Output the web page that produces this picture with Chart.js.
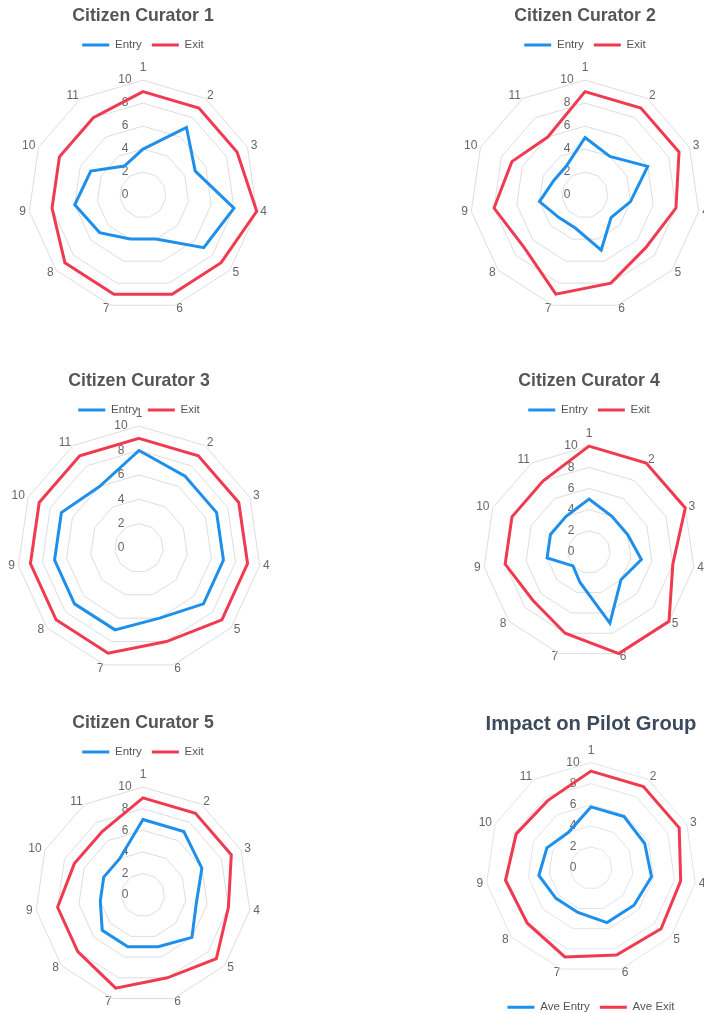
<!DOCTYPE html>
<html><head><meta charset="utf-8">
<script src="https://cdn.jsdelivr.net/npm/chart.js@4.4.0/dist/chart.umd.min.js"></script>
<style>
html,body{margin:0;padding:0;background:#fff;overflow:hidden;width:704px;height:1013px;position:relative;}
.box{position:absolute;}
</style></head><body>
<div class="box" id="b1"><canvas id="c1"></canvas></div>
<div class="box" id="b2"><canvas id="c2"></canvas></div>
<div class="box" id="b3"><canvas id="c3"></canvas></div>
<div class="box" id="b4"><canvas id="c4"></canvas></div>
<div class="box" id="b5"><canvas id="c5"></canvas></div>
<div class="box" id="b6"><canvas id="c6"></canvas></div>
<script>
// ---- data ----
const axisLabels = ['1','2','3','4','5','6','7','8','9','10','11'];
const tickValues = [0,2,4,6,8,10];

const titles = ['Citizen Curator 1','Citizen Curator 2','Citizen Curator 3','Citizen Curator 4','Citizen Curator 5','Impact on Pilot Group'];
const seriesNames = ['Entry','Exit'];
const avgSeriesNames = ['Ave Entry','Ave Exit'];

const entry1 = [4,7,5,8,7,4,4,5,6,5,3];
const exit1  = [9,9,9,10,9,9,9,9,8,8,8];
const entry2 = [5,4,6,4,3,5,3,3,4,3,3];
const exit2  = [9,9,9,8,7,8,9,7,8,7,6];
const entry3 = [8,7,7,7,7,6,7,7,7,7,6];
const exit3  = [9,9,9,9,9,8,9,9,9,9,9];
const entry4 = [5,4,4,5,4,7,3,2,4,4,4];
const exit4  = [10,10,10,8,10,10,8,7,8,8,8];
const entry5 = [7,7,6,5,6,5,5,5,4,4,4];
const exit5  = [9,9,9,8,9,8,9,8,8,7,7];
const aveEntry = [5.8,5.8,5.6,5.8,5.4,5.4,4.4,4.4,5.0,4.6,4.0];
const aveExit  = [9.2,9.2,9.2,8.6,8.8,8.6,8.8,8.0,8.2,7.8,7.6];

// ---- layout (positions / sizes) ----
const layouts = [
  {id:1, left:0,   top:0,   w:286, h:328, tSize:17.7, tPad:{top:5,bottom:3}, tColor:'#555',    legend:'top',    shrink:2,  grid:'#dddddd'},
  {id:2, left:442, top:0,   w:286, h:328, tSize:17.7, tPad:{top:5,bottom:3}, tColor:'#555',    legend:'top',    shrink:2,  grid:'#dddddd'},
  {id:3, left:-4,  top:365, w:286, h:323, tSize:17.7, tPad:{top:5,bottom:3}, tColor:'#555',    legend:'top',    shrink:21, grid:'#dddddd'},
  {id:4, left:446, top:365, w:286, h:311, tSize:17.7, tPad:{top:5,bottom:3}, tColor:'#555',    legend:'top',    shrink:2,  grid:'#dddddd'},
  {id:5, left:0,   top:707, w:286, h:314, tSize:17.7, tPad:{top:5,bottom:3}, tColor:'#555',    legend:'top',    shrink:2,  grid:'#dddddd'},
  {id:6, left:448, top:707, w:286, h:316, tSize:20.2, tPad:{top:5,bottom:4}, tColor:'#3d4a5c', legend:'bottom', shrink:0,  grid:'#dfe4ea'}
];

const blue = '#1e8fea';
const red = '#ef3a4f';
const labelGap = 3.5;

Chart.defaults.font.family = '"Liberation Sans", Arial, Helvetica, sans-serif';
Chart.defaults.color = '#666';

const allData = [
  [entry1, exit1, seriesNames],
  [entry2, exit2, seriesNames],
  [entry3, exit3, seriesNames],
  [entry4, exit4, seriesNames],
  [entry5, exit5, seriesNames],
  [aveEntry, aveExit, avgSeriesNames]
];

// centre side point labels vertically on their spoke (index 0 stays above the top)
function centerPointLabels(scale) {
  const items = scale._pointLabelItems;
  if (!items) return;
  const lh = 12 * 1.2;
  for (let i = 1; i < items.length; i++) {
    const p = scale.getPointPosition(i, scale.drawingArea + labelGap);
    const it = items[i];
    const dx = p.x - it.x;
    it.x = p.x; it.left += dx; it.right += dx;
    const y = p.y - lh / 2;
    it.bottom += (y - it.top); it.y = y; it.top = y;
  }
}

layouts.forEach((L, i) => {
  const box = document.getElementById('b' + L.id);
  box.style.left = L.left + 'px';
  box.style.top = L.top + 'px';
  box.style.width = L.w + 'px';
  box.style.height = L.h + 'px';
  const cv = document.getElementById('c' + L.id);
  cv.width = L.w; cv.height = L.h;
  const [ent, ex, names] = allData[i];
  const legendShrink = {
    id: 'legendShrink',
    beforeUpdate(chart) {
      const lg = chart.legend;
      if (lg && !lg._shrunk) {
        const origFit = lg.fit;
        lg.fit = function () { origFit.call(this); this.height -= L.shrink; };
        lg.draw = function () { if (this.options.display) this._draw(); };
        lg._shrunk = true;
      }
    }
  };
  new Chart(cv, {
    type: 'radar',
    plugins: [legendShrink],
    data: {
      labels: axisLabels,
      datasets: [
        {label: names[0], data: ent, borderColor: blue, backgroundColor: blue, borderWidth: 3, fill: false, pointRadius: 0, pointHoverRadius: 0, tension: 0},
        {label: names[1], data: ex, borderColor: red, backgroundColor: red, borderWidth: 3, fill: false, pointRadius: 0, pointHoverRadius: 0, tension: 0}
      ]
    },
    options: {
      responsive: false,
      animation: false,
      plugins: {
        title: {display: true, text: titles[i], color: L.tColor, font: {size: L.tSize, weight: 'bold'}, padding: L.tPad},
        legend: {
          position: L.legend,
          labels: {usePointStyle: true, pointStyle: 'line', pointStyleWidth: 27, boxHeight: 11, font: {size: 11.5}, color: '#555', padding: 10}
        },
        tooltip: {enabled: false}
      },
      scales: {
        r: {
          min: -0.001, max: tickValues[tickValues.length - 1],
          afterBuildTicks: (scale) => { scale.ticks = tickValues.map(v => ({value: v})); },
          afterFit: centerPointLabels,
          angleLines: {display: false},
          grid: {color: (ctx) => ctx.index === 0 ? 'rgba(0,0,0,0)' : L.grid, lineWidth: 1},
          pointLabels: {font: {size: 12}, color: '#666', padding: -1},
          ticks: {showLabelBackdrop: false, backdropPadding: 0, color: '#666', font: {size: 12},
                  callback: (v) => String(v) + '\u2002\u2002\u2002\u2002\u2002\u2002'}
        }
      }
    }
  });
});
</script>
</body></html>
